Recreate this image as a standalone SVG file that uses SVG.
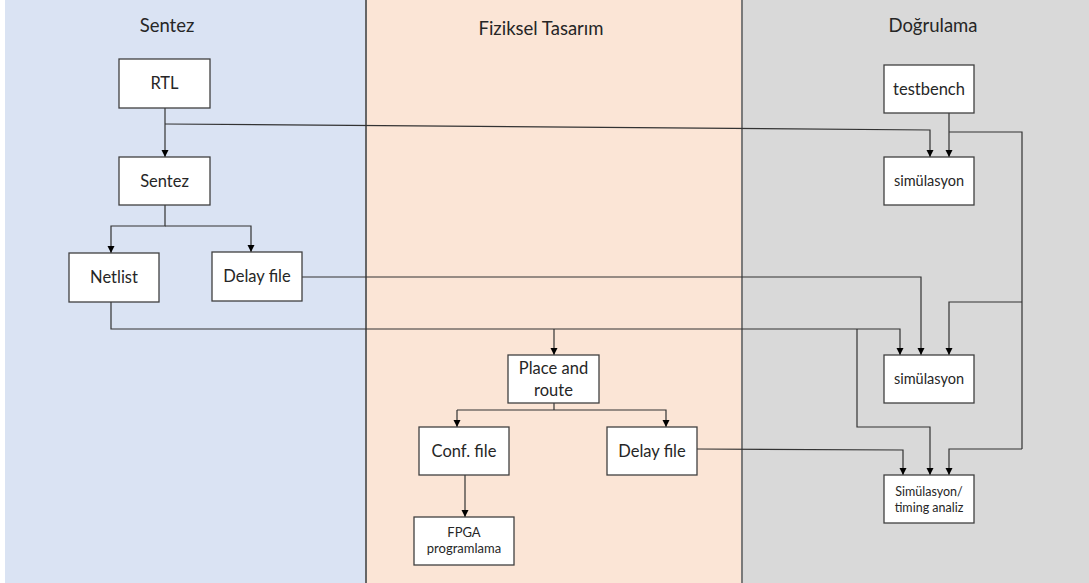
<svg xmlns="http://www.w3.org/2000/svg" width="1089" height="583" viewBox="0 0 1089 583">
<style>
.node rect{fill:#fff;stroke:#404040;stroke-width:1.3}
text{font-family:Lato,"Open Sans","Liberation Sans",sans-serif;fill:#262626;text-anchor:middle}
.t16{font-size:16.5px}
.t14{font-size:14.5px}
.t12{font-size:12.5px}
.t13{font-size:13px}
.title{font-size:18.5px}
.c path{fill:none;stroke:#333;stroke-width:1.2}
</style>
<defs>
<marker id="ah" markerWidth="8" markerHeight="8" refX="7" refY="4" orient="auto" markerUnits="userSpaceOnUse">
<path d="M0,0.5 L7,4 L0,7.5 Z" fill="#000"/>
</marker>
</defs>
<g id="background">
<rect x="0" y="0" width="1089" height="583" fill="#fff"/>
<rect x="5" y="0" width="361" height="583" fill="#DAE3F3"/>
<rect x="366" y="0" width="376" height="583" fill="#FBE5D6"/>
<rect x="742" y="0" width="347" height="583" fill="#D9D9D9"/>
<line x1="366" y1="0" x2="366" y2="583" stroke="#666" stroke-width="2"/>
<line x1="742" y1="0" x2="742" y2="583" stroke="#7a7a7a" stroke-width="2"/>
<text class="title" x="167" y="32">Sentez</text>
<text class="title" x="541" y="35">Fiziksel Tasarım</text>
<text class="title" x="933" y="32">Doğrulama</text>
</g>
<g class="c" id="connectors">
<path d="M165,108 V157" marker-end="url(#ah)"/>
<path d="M165,124 L930,130 V157" marker-end="url(#ah)"/>
<path d="M165,205 V226 H111 V253" marker-end="url(#ah)"/>
<path d="M165,226 H251 V252" marker-end="url(#ah)"/>
<path d="M949,113 V157" marker-end="url(#ah)"/>
<path d="M949,132 H1022 V449"/>
<path d="M1022,302 H949 V355" marker-end="url(#ah)"/>
<path d="M1022,449 H949 V475" marker-end="url(#ah)"/>
<path d="M302,277 H921 V355" marker-end="url(#ah)"/>
<path d="M111,302 V329 H900 V355" marker-end="url(#ah)"/>
<path d="M554,329 V355" marker-end="url(#ah)"/>
<path d="M857,329 V427 H930 V475" marker-end="url(#ah)"/>
<path d="M554,403 V410"/>
<path d="M457,410 H666 V427" marker-end="url(#ah)"/>
<path d="M457,410 V427" marker-end="url(#ah)"/>
<path d="M465,475 V517" marker-end="url(#ah)"/>
<path d="M697,449 L903,450 V475" marker-end="url(#ah)"/>
</g>
<g id="n-rtl" class="node"><rect x="119" y="59" width="91" height="49"/><text class="t16" x="164.5" y="89">RTL</text></g>
<g id="n-sentez" class="node"><rect x="119" y="157" width="91" height="48"/><text class="t16" x="164.5" y="187">Sentez</text></g>
<g id="n-netlist" class="node"><rect x="69" y="253" width="90" height="49"/><text class="t16" x="114" y="283">Netlist</text></g>
<g id="n-delay1" class="node"><rect x="212" y="252" width="90" height="49"/><text class="t16" x="257" y="282">Delay file</text></g>
<g id="n-testbench" class="node"><rect x="884" y="65" width="90" height="48"/><text class="t16" x="929" y="95">testbench</text></g>
<g id="n-sim1" class="node"><rect x="884" y="157" width="90" height="48"/><text class="t14" x="929" y="186">simülasyon</text></g>
<g id="n-sim2" class="node"><rect x="884" y="355" width="90" height="48"/><text class="t14" x="929" y="384">simülasyon</text></g>
<g id="n-sim3" class="node"><rect x="884" y="475" width="90" height="48"/><text class="t12" x="929" y="496">Simülasyon/</text><text class="t12" x="929" y="512">timing analiz</text></g>
<g id="n-par" class="node"><rect x="508" y="355" width="91" height="48"/><text class="t16" x="553.5" y="374">Place and</text><text class="t16" x="553.5" y="396">route</text></g>
<g id="n-conf" class="node"><rect x="419" y="427" width="90" height="48"/><text class="t16" x="464" y="457">Conf. file</text></g>
<g id="n-delay2" class="node"><rect x="607" y="427" width="90" height="48"/><text class="t16" x="652" y="457">Delay file</text></g>
<g id="n-fpga" class="node"><rect x="414" y="517" width="100" height="48"/><text class="t13" x="464" y="537">FPGA</text><text class="t13" x="464" y="553">programlama</text></g>
</svg>
